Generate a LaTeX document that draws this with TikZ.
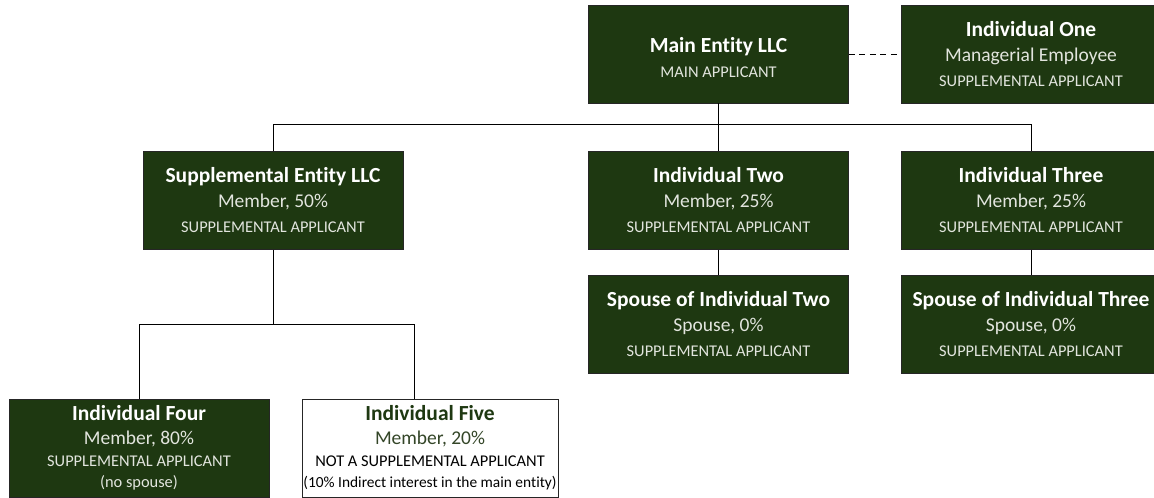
\documentclass[tikz,border=0pt]{standalone}
\usepackage{fontspec}
\setmainfont{Carlito}[Ligatures=NoCommon]
\usetikzlibrary{positioning}
\definecolor{darkgreen}{RGB}{30,56,17}
\definecolor{paletext}{RGB}{226,229,222}
\definecolor{olivetext}{RGB}{52,70,40}
\newcommand{\boxtitle}[1]{{\fontsize{21.5}{25}\selectfont\bfseries #1}}
\newcommand{\boxline}[1]{{\fontsize{19.5}{25}\selectfont #1}}
\tikzset{
  box/.style={draw=black!85, line width=.8pt, fill=darkgreen, text=paletext,
    minimum width=260pt, minimum height=98pt, inner sep=0pt, align=center,
    font=\fontsize{16.4}{25}\selectfont},
  plainbox/.style={box, fill=white, text=black, minimum width=256pt},
  link/.style={draw=black, line width=1pt}
}
\begin{document}
\begin{tikzpicture}[x=1pt,y=-1pt]
\useasboundingbox (0,0) rectangle (1154,498);
\node[box] (main) at (718.5,54) {\rule{0pt}{22pt}\textcolor{white}{\boxtitle{Main Entity LLC}}\\MAIN APPLICANT};
\foreach \n/\x/\y/\t/\m in {one/1031/54/{Individual One}/{Managerial Employee},
    supp/273/200.5/{Supplemental Entity LLC}/{Member, 50\%},
    two/718.5/200.5/{Individual Two}/{Member, 25\%},
    three/1031/200.5/{Individual Three}/{Member, 25\%},
    sptwo/718.5/324/{Spouse of Individual Two}/{Spouse, 0\%},
    spthree/1031/324/{Spouse of Individual Three}/{Spouse, 0\%}}{
    \node[box] (\n) at (\x,\y) {\textcolor{white}{\boxtitle{\t}}\\\boxline{\m}\\SUPPLEMENTAL APPLICANT};
}
\node[box, font=\fontsize{16.4}{21.5}\selectfont] (four) at (139,448)
    {\textcolor{white}{\boxtitle{Individual Four}}\\[2.5pt]\boxline{Member, 80\%}\\SUPPLEMENTAL APPLICANT\\(no spouse)};
\node[plainbox, font=\fontsize{16.4}{21.5}\selectfont] (five) at (430,448)
    {\textcolor{darkgreen}{\boxtitle{Individual Five}}\\[2.5pt]\textcolor{olivetext}{\boxline{Member, 20\%}}\\NOT A SUPPLEMENTAL APPLICANT\\{\fontsize{15.4}{21.5}\selectfont (10\% Indirect interest in the main entity)}};
% links
\draw[link, dash pattern=on 6pt off 4.5pt] (main.east) -- (one.west);
\draw[link] (main.south) -- (two.north);
\draw[link] (main.south) ++(0,21) -| (supp.north);
\draw[link] (main.south) ++(0,21) -| (three.north);
\draw[link] (two.south) -- (sptwo.north);
\draw[link] (three.south) -- (spthree.north);
\draw[link] (supp.south) -- ++(0,75) -| (four.north);
\draw[link] (supp.south) ++(0,75) -| ([xshift=-16pt]five.north);
\end{tikzpicture}
\end{document}
